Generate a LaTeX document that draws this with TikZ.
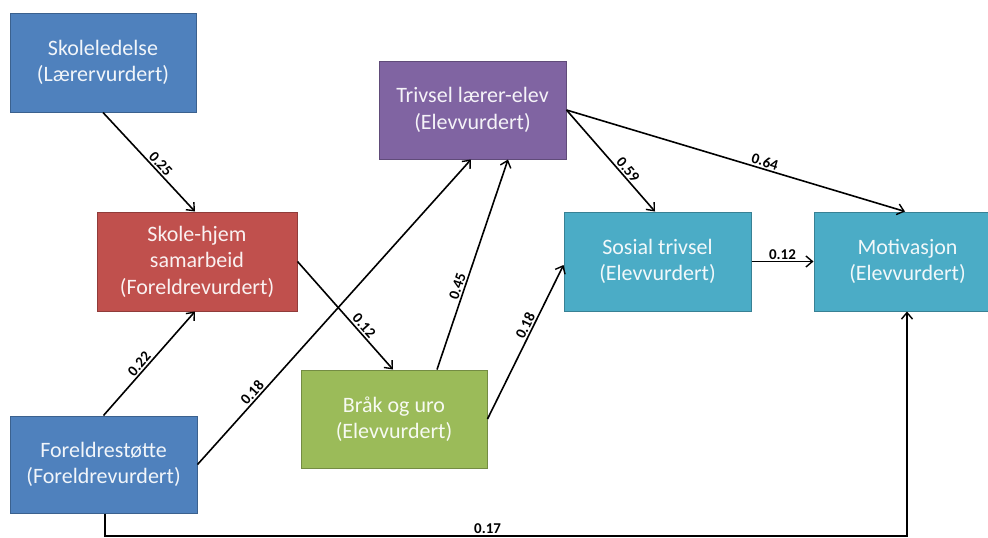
\documentclass[tikz,border=0pt]{standalone}
\usepackage{fontspec}
\setmainfont{Carlito}
\usetikzlibrary{arrows.meta}
\definecolor{cblue}{HTML}{4F81BD}
\definecolor{cred}{HTML}{C0504D}
\definecolor{cpurple}{HTML}{8064A2}
\definecolor{cgreen}{HTML}{9BBB59}
\definecolor{cteal}{HTML}{4BACC6}
\tikzset{
  box/.style={rectangle, draw=#1!75!black, fill=#1, line width=1pt, text=white!92!#1,
    align=center, inner sep=2pt, font=\fontsize{22}{26.5}\selectfont},
  conn/.style={line width=1.6pt, -{Straight Barb[length=6.5pt,width=11pt,line width=1.4pt]}},
  lbl/.style={font=\bfseries\fontsize{15}{17}\selectfont, inner sep=1.5pt}
}
\begin{document}
\begin{tikzpicture}[x=1pt,y=-1pt]
\useasboundingbox (0,0) rectangle (988,538);
\node[box=cblue, minimum width=186pt, minimum height=99pt] (sl) at (103,62.5) {Skoleledelse\\(Lærervurdert)};
\node[box=cred, minimum width=200pt, minimum height=99pt] (sh) at (197,261.5) {Skole-hjem\\samarbeid\\(Foreldrevurdert)};
\node[box=cblue, minimum width=187pt, minimum height=97pt] (fs) at (103.5,464.5) {Foreldrestøtte\\(Foreldrevurdert)};
\node[box=cgreen, minimum width=186pt, minimum height=98pt] (bu) at (394,419) {Bråk og uro\\(Elevvurdert)};
\node[box=cpurple, minimum width=187pt, minimum height=98pt] (tl) at (472.5,110) {Trivsel lærer-elev\\(Elevvurdert)};
\node[box=cteal, minimum width=187pt, minimum height=99pt] (st) at (657.5,261.5) {Sosial trivsel\\(Elevvurdert)};
\node[box=cteal, minimum width=187pt, minimum height=99pt] (mo) at (907.5,261.5) {Motivasjon\\(Elevvurdert)};

\draw[conn] (sl.south) -- node[lbl, sloped, above, pos=0.57] {0.25} ([xshift=-2pt]sh.north);
\draw[conn] (fs.north) -- node[lbl, sloped, above, pos=0.45] {0.22} ([xshift=-2pt]sh.south);
\draw[conn] (fs.east) -- node[lbl, sloped, above, pos=0.22] {0.18} ([xshift=-1.5pt]tl.south);
\draw[conn] (sh.east) -- node[lbl, sloped, above, pos=0.64] {0.12} ([xshift=-1pt]bu.north);
\draw[conn] ([xshift=43pt]bu.north) -- node[lbl, sloped, above, pos=0.385] {0.45} ([xshift=35.5pt]tl.south);
\draw[conn] (bu.east) -- node[lbl, sloped, above, pos=0.585] {0.18} ([yshift=-3.5pt]st.west);
\draw[conn] (tl.east) -- node[lbl, sloped, above, pos=0.634] {0.59} ([xshift=-2.5pt]st.north);
\draw[conn] (tl.east) -- node[lbl, sloped, above, pos=0.58] {0.64} ([xshift=-2.5pt]mo.north);
\draw[conn] (st.east) -- node[lbl, above, pos=0.5] {0.12} (mo.west);
\coordinate (bl) at (105,536);
\coordinate (br) at (907,536);
\draw[conn] ([xshift=1.5pt]fs.south) -- (bl) -- node[lbl, above, pos=0.477] {0.17} (br) -- ([xshift=-0.5pt]mo.south);
\end{tikzpicture}
\end{document}
